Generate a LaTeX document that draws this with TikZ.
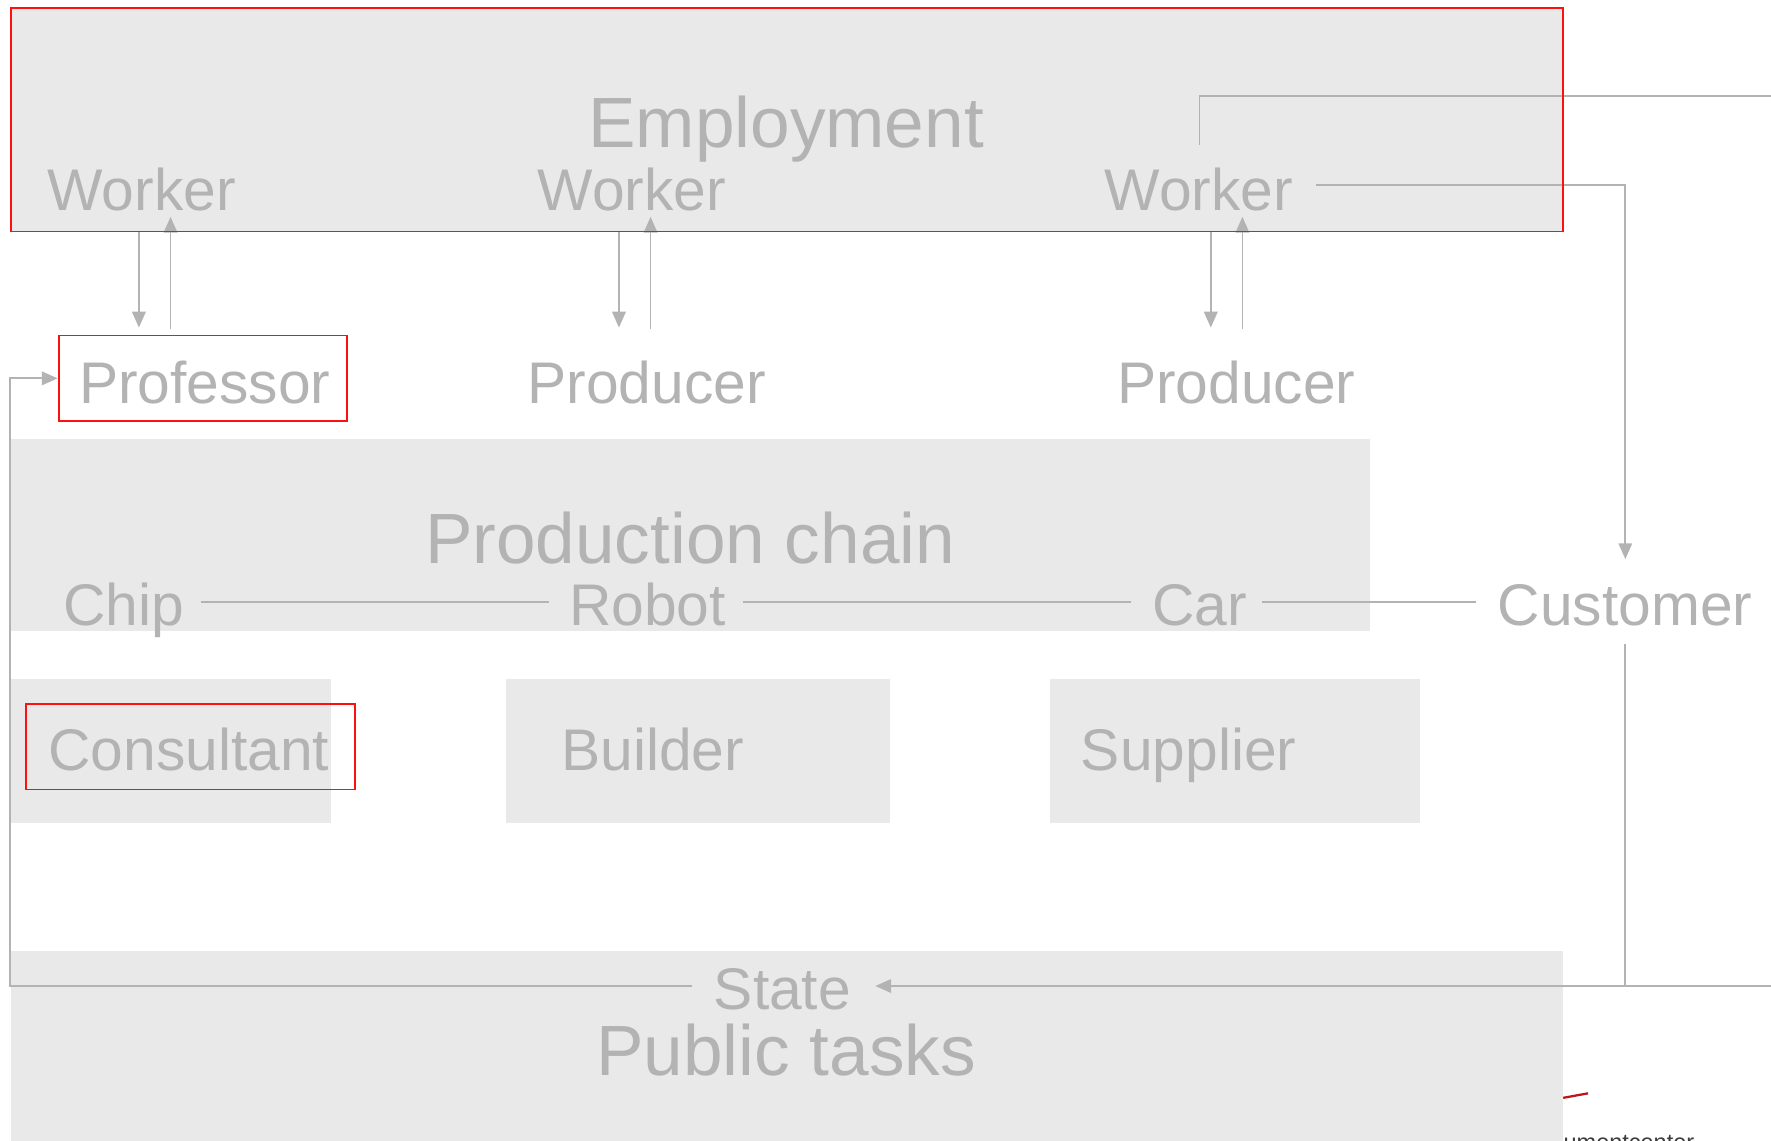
\documentclass[tikz,border=0pt]{standalone}
\usepackage{fontspec}
\setmainfont{Liberation Sans}
\usetikzlibrary{arrows.meta,fit}
\definecolor{txtgray}{HTML}{B3B3B3}
\definecolor{boxgray}{HTML}{E9E9E9}
\definecolor{redb}{HTML}{FF1010}
\definecolor{darkred}{HTML}{C0141C}
\definecolor{darktxt}{HTML}{3C3C3C}
\begin{document}
\begin{tikzpicture}[x=0.5pt,y=-0.5pt,
  lbl/.style={inner sep=0pt, outer sep=0pt, anchor=base west, text=txtgray, font=\fontsize{26}{30}\selectfont},
  big/.style={inner sep=0pt, outer sep=0pt, anchor=base, text=txtgray, font=\fontsize{31.5}{36}\selectfont},
  graybox/.style={fill=boxgray, draw=none, inner sep=0pt, outer sep=0pt},
  frame/.style={draw=redb, line width=0.8pt, inner sep=0pt, outer sep=0pt},
  conn/.style={draw=txtgray, line width=0.8pt},
  tip/.style={-{Triangle[width=6pt,length=7pt]}}]
\useasboundingbox (0,0) rectangle (1568,1010);
\clip (0,0) rectangle (1568,1010);
\fill[white] (0,0) rectangle (1568,1010);

% background boxes
\node[graybox, fit={(10,7) (1384,205)}] (empbox) {};
\node[graybox, fit={(10,389) (1213,559)}] (prodbox) {};
\node[graybox, fit={(10,601) (293,729)}] (consbox) {};
\node[graybox, fit={(448,601) (788,729)}] (buildbox) {};
\node[graybox, fit={(930,601) (1257,729)}] (suppbox) {};
\node[graybox, fit={(10,842) (1384,1010)}] (pubbox) {};

% texts
\node[big] (emp) at (696,131) {Employment};
\node[lbl] (w1) at (42,186) {Worker};
\node[lbl] (w2) at (476,186) {Worker};
\node[lbl] (w3) at (978,186) {Worker};
\node[lbl] (prof) at (70,357) {Professor};
\node[lbl] (p1) at (467,357) {Producer};
\node[lbl] (p2) at (989,357) {Producer};
\node[big] (pc) at (611,499) {Production chain};
\node[lbl] (chip) at (56,554) {Chip};
\node[lbl] (robot) at (504,554) {Robot};
\node[lbl] (car) at (1020,554) {Car};
\node[lbl] (cust) at (1326,554) {Customer};
\node[lbl] (cons) at (43,682) {Consultant};
\node[lbl] (build) at (497,682) {Builder};
\node[lbl] (supp) at (957,682) {Supplier};
\node[lbl] (state) at (632,894) {State};
\node[big] (pub) at (696,952) {Public tasks};
\node[inner sep=0pt, anchor=base west, text=darktxt, font=\fontsize{10.4}{12}\selectfont] (logo) at (1384,1019) {umentcenter};

% coordinates for connector ends
\coordinate (w1a) at (123,205); \coordinate (w1b) at (123,290);
\coordinate (w1c) at (151,291); \coordinate (w1d) at (151,192);
\coordinate (w2a) at (548,205); \coordinate (w2b) at (548,290);
\coordinate (w2c) at (576,291); \coordinate (w2d) at (576,192);
\coordinate (w3a) at (1072,205); \coordinate (w3b) at (1072,290);
\coordinate (w3c) at (1100,291); \coordinate (w3d) at (1100,192);
\coordinate (w3top) at (1062,128); \coordinate (rightTop) at (1568,85);
\coordinate (w3right) at (1165,164); \coordinate (custTop) at (1439,495);
\coordinate (custBot) at (1439,570); \coordinate (rightBot) at (1568,873);
\coordinate (stateR) at (775,873); \coordinate (stateL) at (613,873);
\coordinate (profL) at (51,335);

% worker <-> producer arrows
\draw[conn,tip] (w1a) -- (w1b);
\draw[conn,tip] (w1c) -- (w1d);
\draw[conn,tip] (w2a) -- (w2b);
\draw[conn,tip] (w2c) -- (w2d);
\draw[conn,tip] (w3a) -- (w3b);
\draw[conn,tip] (w3c) -- (w3d);

% worker 3 connectors
\draw[conn] (w3top) |- (rightTop);
\draw[conn,tip] (w3right) -| (custTop);

% production chain
\draw[conn] (178,533) -- (486,533);
\draw[conn] (658,533) -- (1001,533);
\draw[conn] (1117,533) -- (1307,533);

% customer / state loop
\draw[conn] (custBot) -- (custBot |- rightBot);
\draw[conn,tip] (rightBot) -- (stateR);
\draw[conn,tip] (stateL) -- (9,873) -- (9,335) -- (profL);

% red frames
\draw[frame] (empbox.north west) rectangle (empbox.south east);
\node[frame, fit={(52,297) (307,373)}] (profframe) {};
\node[frame, fit={(23,623) (314,699)}] (consframe) {};

% logo remnant
\draw[darkred, line width=1pt] (1384,972) -- (1406,968);
\end{tikzpicture}
\end{document}
